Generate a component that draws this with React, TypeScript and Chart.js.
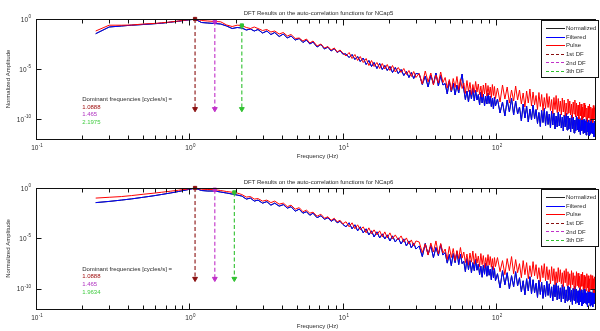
import React, { useEffect, useRef } from 'react';
import { Chart, registerables } from 'chart.js';

Chart.register(...registerables);

// ---------- shared axis data ----------
const freqs = [
  0.245, 0.3, 0.36, 0.42, 0.5, 0.58, 0.66, 0.75, 0.85, 0.95, 1.0888, 1.2, 1.32, 1.465, 1.6, 1.75, 1.9, 2.05, 2.1975, 2.35, 2.5, 2.65, 2.8, 3.0, 3.2, 3.4, 3.6, 3.85, 4.1, 4.35, 4.6, 4.9, 5.2, 5.5, 5.8, 6.1, 6.4, 6.8, 7.2, 7.6, 8.0, 8.4, 8.8, 9.2, 9.6, 10,
  10.5, 11, 11.5, 12, 12.5, 13, 13.6, 14.2, 14.8, 15.4, 16, 16.7, 17.4, 18.1, 18.8, 19.5, 20.3, 21.1, 22, 23, 24, 25, 26, 27, 28, 29, 30,
  31.5, 33, 34.5, 36, 37.5, 39, 40.5, 42, 43.5, 45,
  46.5, 48, 49.5, 51, 52.5, 54, 55.5, 57, 58.5, 60,
  61.5, 63, 64.5, 66, 67.5, 69, 70.5, 72, 73.5, 75,
  76.5, 78, 79.5, 81, 82.5, 84, 85.5, 87, 88.5, 90,
  91.5, 93, 94.5, 96, 97.5, 99,
  102, 106, 110, 114, 118, 122, 126, 130, 134, 138,
  142, 146, 150, 154, 158, 162, 166, 170, 174, 178,
  182, 186, 190, 194, 198, 202, 206, 210, 214, 218,
  222, 226, 230, 234, 238, 242, 246, 250, 254, 258,
  262, 266, 270, 274, 278, 282, 286, 290, 294, 298,
  302, 306, 310, 314, 318, 322, 326, 330, 334, 338,
  342, 346, 350, 354, 358, 362, 366, 370, 374, 378,
  382, 386, 390, 394, 398, 402, 406, 410, 414, 418,
  422, 426, 430, 434, 438,
];

const xMin = 0.1;
const xMax = 441;
const yMin = 1e-12;
const yMax = 1;
const xTickValues = [0.1, 1, 10, 100];
const xTickExps = ['-1', '0', '1', '2'];
const xMinorSteps = [1, 2, 3, 4, 5, 6, 7, 8, 9];
const yTickValues = [1e-10, 1e-5, 1];
const yTickExps = ['-10', '-5', '0'];

const xLabel = 'Frequency (Hz)';
const yLabel = 'Normalized Amplitude';
const annotationTitle = 'Dominant frequencies [cycles/s] =';
const annotationFreq = 0.2;
const annotationExp = -8;
const dfBaseExp = -9;

const legendLabels = ['Normalized', 'Filtered', 'Pulse', '1st DF', '2nd DF', '3th DF'];
const seriesColors = ['#222222', '#0000ff', '#ff0000'];
const dfColors = ['#8a1010', '#c030c8', '#30c030'];
const dfTextColors = ['#a01010', '#b030c0', '#40cc40'];

// ---------- top panel (NCap5) ----------
const topTitle = 'DFT Results on the auto-correlation functions for NCap5';
const topPulseExp = [
  -1.2, -0.62, -0.62, -0.6, -0.5, -0.45, -0.38, -0.3, -0.2, -0.1, 0, -0.15, -0.2, -0.25, -0.28, -0.6, -0.75, -0.62, -0.65, -0.85, -0.95, -0.8, -0.95, -1.15, -1.05, -1.3, -1.2, -1.5, -1.35, -1.7, -1.55, -1.95, -1.9, -2.2, -2.0, -2.4, -2.2, -2.7, -2.5, -2.9, -2.75, -3.1, -2.9, -3.3, -3.1, -3.4,
  -3.7, -3.35, -3.95, -3.55, -4.15, -3.75, -4.35, -3.95, -4.65, -4.15, -4.75, -4.35, -4.95, -4.45, -5.0, -4.55, -5.15, -4.65, -5.3, -4.85, -5.35, -4.95, -5.55, -5.15, -5.75, -5.25, -5.85,
  -5.45, -6.5, -5.2, -6.3, -5.4, -6.6, -5.6, -6.4, -5.3, -6.35,
  -5.85, -6.9, -6.05, -7.15, -5.95, -6.85, -5.75, -7.05, -6.0, -6.95,
  -6.4, -7.45, -6.15, -7.25, -6.35, -7.55, -6.55, -7.35, -6.25, -7.3,
  -6.5, -7.55, -6.7, -7.8, -6.6, -7.5, -6.4, -7.7, -6.65, -7.6,
  -6.8, -7.85, -6.55, -7.65, -6.75, -7.95,
  -6.9, -8.3, -6.6, -8.0, -6.8, -8.4, -7.1, -8.2, -6.7, -8.1,
  -7.1, -8.5, -7.4, -8.8, -7.2, -8.4, -7.0, -8.7, -7.3, -8.6,
  -7.65, -9.05, -7.35, -8.75, -7.55, -9.15, -7.85, -8.95, -7.45, -8.85,
  -7.75, -9.15, -8.05, -9.45, -7.85, -9.05, -7.65, -9.35, -7.95, -9.25,
  -8.2, -9.6, -7.9, -9.3, -8.1, -9.7, -8.4, -9.5, -8.0, -9.4,
  -8.2, -9.6, -8.5, -9.9, -8.3, -9.5, -8.1, -9.8, -8.4, -9.7,
  -8.6, -10.0, -8.3, -9.7, -8.5, -10.1, -8.8, -9.9, -8.4, -9.8,
  -8.6, -10.0, -8.9, -10.3, -8.7, -9.9, -8.5, -10.2, -8.8, -10.1,
  -8.95, -10.35, -8.65, -10.05, -8.85,
];
const topFilteredExp = [
  -1.47, -0.8, -0.7, -0.62, -0.55, -0.48, -0.42, -0.32, -0.22, -0.12, -0.02, -0.35, -0.4, -0.45, -0.5, -0.7, -0.95, -0.85, -0.9, -1.1, -1.0, -1.2, -1.05, -1.4, -1.2, -1.55, -1.35, -1.75, -1.5, -1.9, -1.7, -2.1, -1.95, -2.35, -2.1, -2.5, -2.3, -2.8, -2.55, -3.0, -2.8, -3.2, -2.95, -3.35, -3.15, -3.5,
  -3.5, -3.85, -3.55, -4.05, -3.75, -4.25, -3.9, -4.55, -4.15, -4.75, -4.35, -4.95, -4.45, -5.05, -4.65, -5.15, -4.75, -5.35, -4.85, -5.45, -5.05, -5.65, -5.25, -5.85, -5.35, -5.95, -5.45,
  -5.5, -6.55, -5.7, -6.8, -5.6, -6.5, -5.4, -6.7, -5.65, -6.6,
  -6.45, -7.5, -6.2, -7.3, -6.4, -7.6, -6.6, -7.4, -6.3, -5.5,
  -7.0, -8.05, -7.2, -8.3, -7.1, -8.0, -6.9, -8.2, -7.15, -8.1,
  -7.55, -8.6, -7.3, -8.4, -7.5, -8.7, -7.7, -8.5, -7.4, -8.45,
  -7.7, -8.75, -7.9, -9.0, -7.8, -8.7,
  -8.0, -9.4, -8.3, -9.7, -8.1, -9.3, -7.9, -9.6, -8.2, -9.5,
  -8.8, -10.2, -8.5, -9.9, -8.7, -10.3, -9.0, -10.1, -8.6, -10.0,
  -9.05, -10.45, -9.35, -10.75, -9.15, -10.35, -8.95, -10.65, -9.25, -10.55,
  -9.5, -10.9, -9.2, -10.6, -9.4, -11.0, -9.7, -10.8, -9.3, -10.7,
  -9.5, -10.9, -9.8, -11.2, -9.6, -10.8, -9.4, -11.1, -9.7, -11.0,
  -9.9, -11.3, -9.6, -11.0, -9.8, -11.4, -10.1, -11.2, -9.7, -11.1,
  -9.85, -11.25, -10.15, -11.55, -9.95, -11.15, -9.75, -11.45, -10.05, -11.35,
  -10.2, -11.6, -9.9, -11.3, -10.1, -11.7, -10.4, -11.5, -10.0, -11.4,
  -10.1, -11.5, -10.4, -11.8, -10.2,
];
const topNormalizedExp = topFilteredExp;
const topDfFreqs = [1.0888, 1.465, 2.1975];
const topDfPeakExp = [0, -0.25, -0.65];
const topDfLabels = ['1.0888', '1.465', '2.1975'];

// ---------- bottom panel (NCap6) ----------
const bottomTitle = 'DFT Results on the auto-correlation functions for NCap6';
const bottomPulseExp = [
  -1.0, -0.92, -0.85, -0.75, -0.62, -0.52, -0.42, -0.32, -0.22, -0.12, 0, -0.12, -0.15, -0.17, -0.25, -0.35, -0.42, -0.5, -0.65, -0.9, -0.85, -1.1, -1.05, -1.3, -1.2, -1.45, -1.3, -1.6, -1.5, -1.85, -1.7, -2.1, -1.95, -2.35, -2.2, -2.5, -2.4, -2.8, -2.6, -3.0, -2.85, -3.2, -3.0, -3.35, -3.2, -3.55,
  -3.35, -3.85, -3.45, -4.05, -3.65, -4.15, -3.85, -4.45, -3.95, -4.55, -4.15, -4.65, -4.25, -4.85, -4.35, -4.95, -4.45, -5.05, -4.65, -5.15, -4.75, -5.35, -4.95, -5.55, -5.15, -5.75, -5.25,
  -5.35, -6.4, -5.55, -6.65, -5.45, -6.35, -5.25, -6.55, -5.5, -6.45,
  -6.05, -7.1, -5.8, -6.9, -6.0, -7.2, -6.2, -7.0, -5.9, -6.95,
  -6.35, -7.4, -6.55, -7.65, -6.45, -7.35, -6.25, -7.55, -6.5, -7.45,
  -6.75, -7.8, -6.5, -7.6, -6.7, -7.9, -6.9, -7.7, -6.6, -7.65,
  -6.8, -7.85, -7.0, -8.1, -6.9, -7.8,
  -6.9, -8.3, -7.2, -8.6, -7.0, -8.2, -6.8, -8.5, -7.1, -8.4,
  -7.5, -8.9, -7.2, -8.6, -7.4, -9.0, -7.7, -8.8, -7.3, -8.7,
  -7.6, -9.0, -7.9, -9.3, -7.7, -8.9, -7.5, -9.2, -7.8, -9.1,
  -8.1, -9.5, -7.8, -9.2, -8.0, -9.6, -8.3, -9.4, -7.9, -9.3,
  -8.1, -9.5, -8.4, -9.8, -8.2, -9.4, -8.0, -9.7, -8.3, -9.6,
  -8.5, -9.9, -8.2, -9.6, -8.4, -10.0, -8.7, -9.8, -8.3, -9.7,
  -8.45, -9.85, -8.75, -10.15, -8.55, -9.75, -8.35, -10.05, -8.65, -9.95,
  -8.8, -10.2, -8.5, -9.9, -8.7, -10.3, -9.0, -10.1, -8.6, -10.0,
  -8.7, -10.1, -9.0, -10.4, -8.8,
];
const bottomFilteredExp = [
  -1.45, -1.33, -1.2, -1.08, -0.92, -0.78, -0.64, -0.5, -0.35, -0.2, -0.02, -0.25, -0.3, -0.3, -0.4, -0.5, -0.6, -0.7, -0.8, -1.1, -1.0, -1.3, -1.2, -1.5, -1.35, -1.7, -1.5, -1.8, -1.65, -2.0, -1.85, -2.3, -2.1, -2.5, -2.35, -2.7, -2.5, -2.95, -2.75, -3.1, -2.95, -3.3, -3.1, -3.45, -3.3, -3.6,
  -3.85, -3.45, -4.05, -3.65, -4.25, -3.85, -4.45, -4.05, -4.65, -4.25, -4.85, -4.35, -4.95, -4.55, -5.05, -4.65, -5.25, -4.75, -5.35, -4.95, -5.55, -5.05, -5.75, -5.25, -5.95, -5.45, -6.05,
  -5.75, -6.8, -5.5, -6.6, -5.7, -6.9, -5.9, -6.7, -5.6, -6.65,
  -6.4, -7.45, -6.6, -7.7, -6.5, -7.4, -6.3, -7.6, -6.55, -7.5,
  -7.25, -8.3, -7.0, -8.1, -7.2, -8.4, -7.4, -8.2, -7.1, -8.15,
  -7.55, -8.6, -7.75, -8.85, -7.65, -8.55, -7.45, -8.75, -7.7, -8.65,
  -8.05, -9.1, -7.8, -8.9, -8.0, -9.2,
  -8.5, -9.9, -8.2, -9.6, -8.4, -10.0, -8.7, -9.8, -8.3, -9.7,
  -8.9, -10.3, -9.2, -10.6, -9.0, -10.2, -8.8, -10.5, -9.1, -10.4,
  -9.45, -10.85, -9.15, -10.55, -9.35, -10.95, -9.65, -10.75, -9.25, -10.65,
  -9.5, -10.9, -9.8, -11.2, -9.6, -10.8, -9.4, -11.1, -9.7, -11.0,
  -9.9, -11.3, -9.6, -11.0, -9.8, -11.4, -10.1, -11.2, -9.7, -11.1,
  -9.85, -11.25, -10.15, -11.55, -9.95, -11.15, -9.75, -11.45, -10.05, -11.35,
  -10.2, -11.6, -9.9, -11.3, -10.1, -11.7, -10.4, -11.5, -10.0, -11.4,
  -10.1, -11.5, -10.4, -11.8, -10.2, -11.4, -10.0, -11.7, -10.3, -11.6,
  -10.4, -11.8, -10.1, -11.5, -10.3,
];
const bottomNormalizedExp = bottomFilteredExp;
const bottomDfFreqs = [1.0888, 1.465, 1.9634];
const bottomDfPeakExp = [0, -0.17, -0.44];
const bottomDfLabels = ['1.0888', '1.465', '1.9634'];

// ---------- drawing helpers ----------
const FONT = '"Liberation Sans", Arial, Helvetica, sans-serif';
const TEXT = '#2a2a2a';

function drawPow(ctx: CanvasRenderingContext2D, exp: string, x: number, y: number, align: 'center' | 'right') {
  ctx.font = `6.5px ${FONT}`;
  const wb = ctx.measureText('10').width;
  ctx.font = `4.5px ${FONT}`;
  const we = ctx.measureText(exp).width;
  const total = wb + we + 0.5;
  const x0 = align === 'center' ? x - total / 2 + 1 : x - total;
  ctx.textAlign = 'left';
  ctx.textBaseline = 'alphabetic';
  ctx.font = `6.5px ${FONT}`;
  ctx.fillText('10', x0, y);
  ctx.font = `4.5px ${FONT}`;
  ctx.fillText(exp, x0 + wb + 0.5, y - 3.5);
}

const matlabAxes = {
  id: 'matlabAxes',
  afterDraw(chart: any, _args: any, o: any) {
    const { ctx, chartArea: a } = chart;
    const xs = chart.scales.x;
    const ys = chart.scales.y;
    const L = Math.round(a.left) + 0.5;
    const R = Math.round(a.right) + 0.5;
    const T = Math.round(a.top) + 0.5;
    const B = Math.round(a.bottom) + 0.5;
    ctx.save();
    ctx.strokeStyle = '#111';
    ctx.lineWidth = 1;
    ctx.setLineDash([]);
    ctx.strokeRect(L, T, R - L, B - T);

    const seg = (x1: number, y1: number, x2: number, y2: number) => {
      ctx.beginPath();
      ctx.moveTo(x1, y1);
      ctx.lineTo(x2, y2);
      ctx.stroke();
    };
    xTickValues.forEach((dec) => {
      xMinorSteps.forEach((m) => {
        const v = dec * m;
        if (v < xMin || v > xMax) return;
        const px = Math.round(xs.getPixelForValue(v)) + 0.5;
        const len = m === 1 ? 6 : 4;
        seg(px, B, px, B - len);
        seg(px, T, px, T + len);
      });
    });
    yTickValues.forEach((v) => {
      const py = Math.round(ys.getPixelForValue(v)) + 0.5;
      seg(L, py, L + 5, py);
      seg(R, py, R - 5, py);
    });

    ctx.fillStyle = TEXT;
    xTickValues.forEach((v, i) => {
      drawPow(ctx, xTickExps[i], xs.getPixelForValue(v), a.bottom + 11, 'center');
    });
    yTickValues.forEach((v, i) => {
      drawPow(ctx, yTickExps[i], a.left - 5, ys.getPixelForValue(v) + 2.5, 'right');
    });

    ctx.font = `6px ${FONT}`;
    ctx.textAlign = 'center';
    ctx.textBaseline = 'alphabetic';
    ctx.fillText(xLabel, (a.left + a.right) / 2 + 2, a.bottom + 18.5);
    ctx.fillText(o.title, (a.left + a.right) / 2 + 3, a.top - 4);
    ctx.save();
    ctx.translate(10, (a.top + a.bottom) / 2);
    ctx.rotate(-Math.PI / 2);
    ctx.fillText(yLabel, 0, 0);
    ctx.restore();

    const ax = xs.getPixelForValue(annotationFreq);
    const ay = ys.getPixelForValue(Math.pow(10, annotationExp)) + 2;
    ctx.textAlign = 'left';
    ctx.font = `6px ${FONT}`;
    ctx.fillStyle = TEXT;
    ctx.fillText(annotationTitle, ax, ay);
    o.dfLabels.forEach((lab: string, i: number) => {
      ctx.fillStyle = dfTextColors[i];
      ctx.fillText(lab, ax, ay + 7.7 * (i + 1));
    });

    const lx = a.right - 54;
    const lt = a.top + 1;
    const lw = 57;
    const lh = 57;
    ctx.fillStyle = '#fff';
    ctx.fillRect(lx, lt, lw, lh);
    ctx.strokeStyle = '#111';
    ctx.strokeRect(Math.round(lx) + 0.5, Math.round(lt) + 0.5, lw, lh);
    legendLabels.forEach((lab, i) => {
      const y = lt + 8 + 8.6 * i;
      const col = i < 3 ? seriesColors[i] : dfColors[i - 3];
      ctx.strokeStyle = col;
      ctx.lineWidth = 1;
      ctx.setLineDash(i < 3 ? [] : [3, 2]);
      seg(lx + 5, Math.round(y) + 0.5, lx + 24, Math.round(y) + 0.5);
      ctx.setLineDash([]);
      ctx.fillStyle = TEXT;
      ctx.font = `6px ${FONT}`;
      ctx.textAlign = 'left';
      ctx.textBaseline = 'middle';
      ctx.fillText(lab, lx + 25, y + 0.5);
    });
    ctx.restore();
  },
};

type PanelProps = {
  title: string;
  normalizedExp: number[];
  filteredExp: number[];
  pulseExp: number[];
  dfFreqs: number[];
  dfPeakExp: number[];
  dfLabels: string[];
  height: number;
  padTop: number;
  padBottom: number;
};

function toPoints(exps: number[]) {
  const n = Math.min(freqs.length, exps.length);
  return freqs.slice(0, n).map((f, i) => ({ x: f, y: Math.pow(10, exps[i]) }));
}

function Panel(p: PanelProps) {
  const ref = useRef<HTMLCanvasElement>(null);
  useEffect(() => {
    if (!ref.current) return;
    const series = [p.normalizedExp, p.filteredExp, p.pulseExp];
    const datasets: any[] = series.map((exps, i) => ({
      label: legendLabels[i],
      data: toPoints(exps),
      borderColor: seriesColors[i],
      borderWidth: 1,
      pointRadius: 0,
      tension: 0,
      order: 3 - i,
    }));
    p.dfFreqs.forEach((f, i) => {
      datasets.push({
        label: legendLabels[3 + i],
        data: [
          { x: f, y: Math.pow(10, p.dfPeakExp[i]) },
          { x: f, y: Math.pow(10, dfBaseExp) },
        ],
        borderColor: dfColors[i],
        borderWidth: 1.1,
        borderDash: [4, 2.5],
        pointStyle: ['rect', 'triangle'],
        pointRotation: [0, 180],
        pointRadius: [2.3, 2.8],
        pointBackgroundColor: dfColors[i],
        pointBorderColor: dfColors[i],
        pointBorderWidth: 1,
        clip: false,
        order: 0,
      });
    });
    const chart = new Chart(ref.current, {
      type: 'line',
      data: { datasets },
      options: {
        animation: false,
        responsive: false,
        events: [],
        layout: { padding: { left: 36, right: 3, top: p.padTop, bottom: p.padBottom } },
        plugins: {
          legend: { display: false },
          tooltip: { enabled: false },
          title: { display: false },
          matlabAxes: { title: p.title, dfLabels: p.dfLabels },
        } as any,
        scales: {
          x: { type: 'logarithmic', min: xMin, max: xMax, display: false },
          y: { type: 'logarithmic', min: yMin, max: yMax, display: false },
        },
      },
      plugins: [matlabAxes],
    });
    return () => chart.destroy();
  }, []);
  return (
    <canvas
      ref={ref}
      width={600}
      height={p.height}
      style={{ display: 'block', width: 600, height: p.height }}
    />
  );
}

export default function App() {
  return (
    <div style={{ position: 'absolute', left: 0, top: 0, width: 600, height: 331, background: '#fff' }}>
      <Panel
        title={topTitle}
        normalizedExp={topNormalizedExp}
        filteredExp={topFilteredExp}
        pulseExp={topPulseExp}
        dfFreqs={topDfFreqs}
        dfPeakExp={topDfPeakExp}
        dfLabels={topDfLabels}
        height={165}
        padTop={19}
        padBottom={26}
      />
      <Panel
        title={bottomTitle}
        normalizedExp={bottomNormalizedExp}
        filteredExp={bottomFilteredExp}
        pulseExp={bottomPulseExp}
        dfFreqs={bottomDfFreqs}
        dfPeakExp={bottomDfPeakExp}
        dfLabels={bottomDfLabels}
        height={166}
        padTop={23}
        padBottom={22}
      />
    </div>
  );
}
